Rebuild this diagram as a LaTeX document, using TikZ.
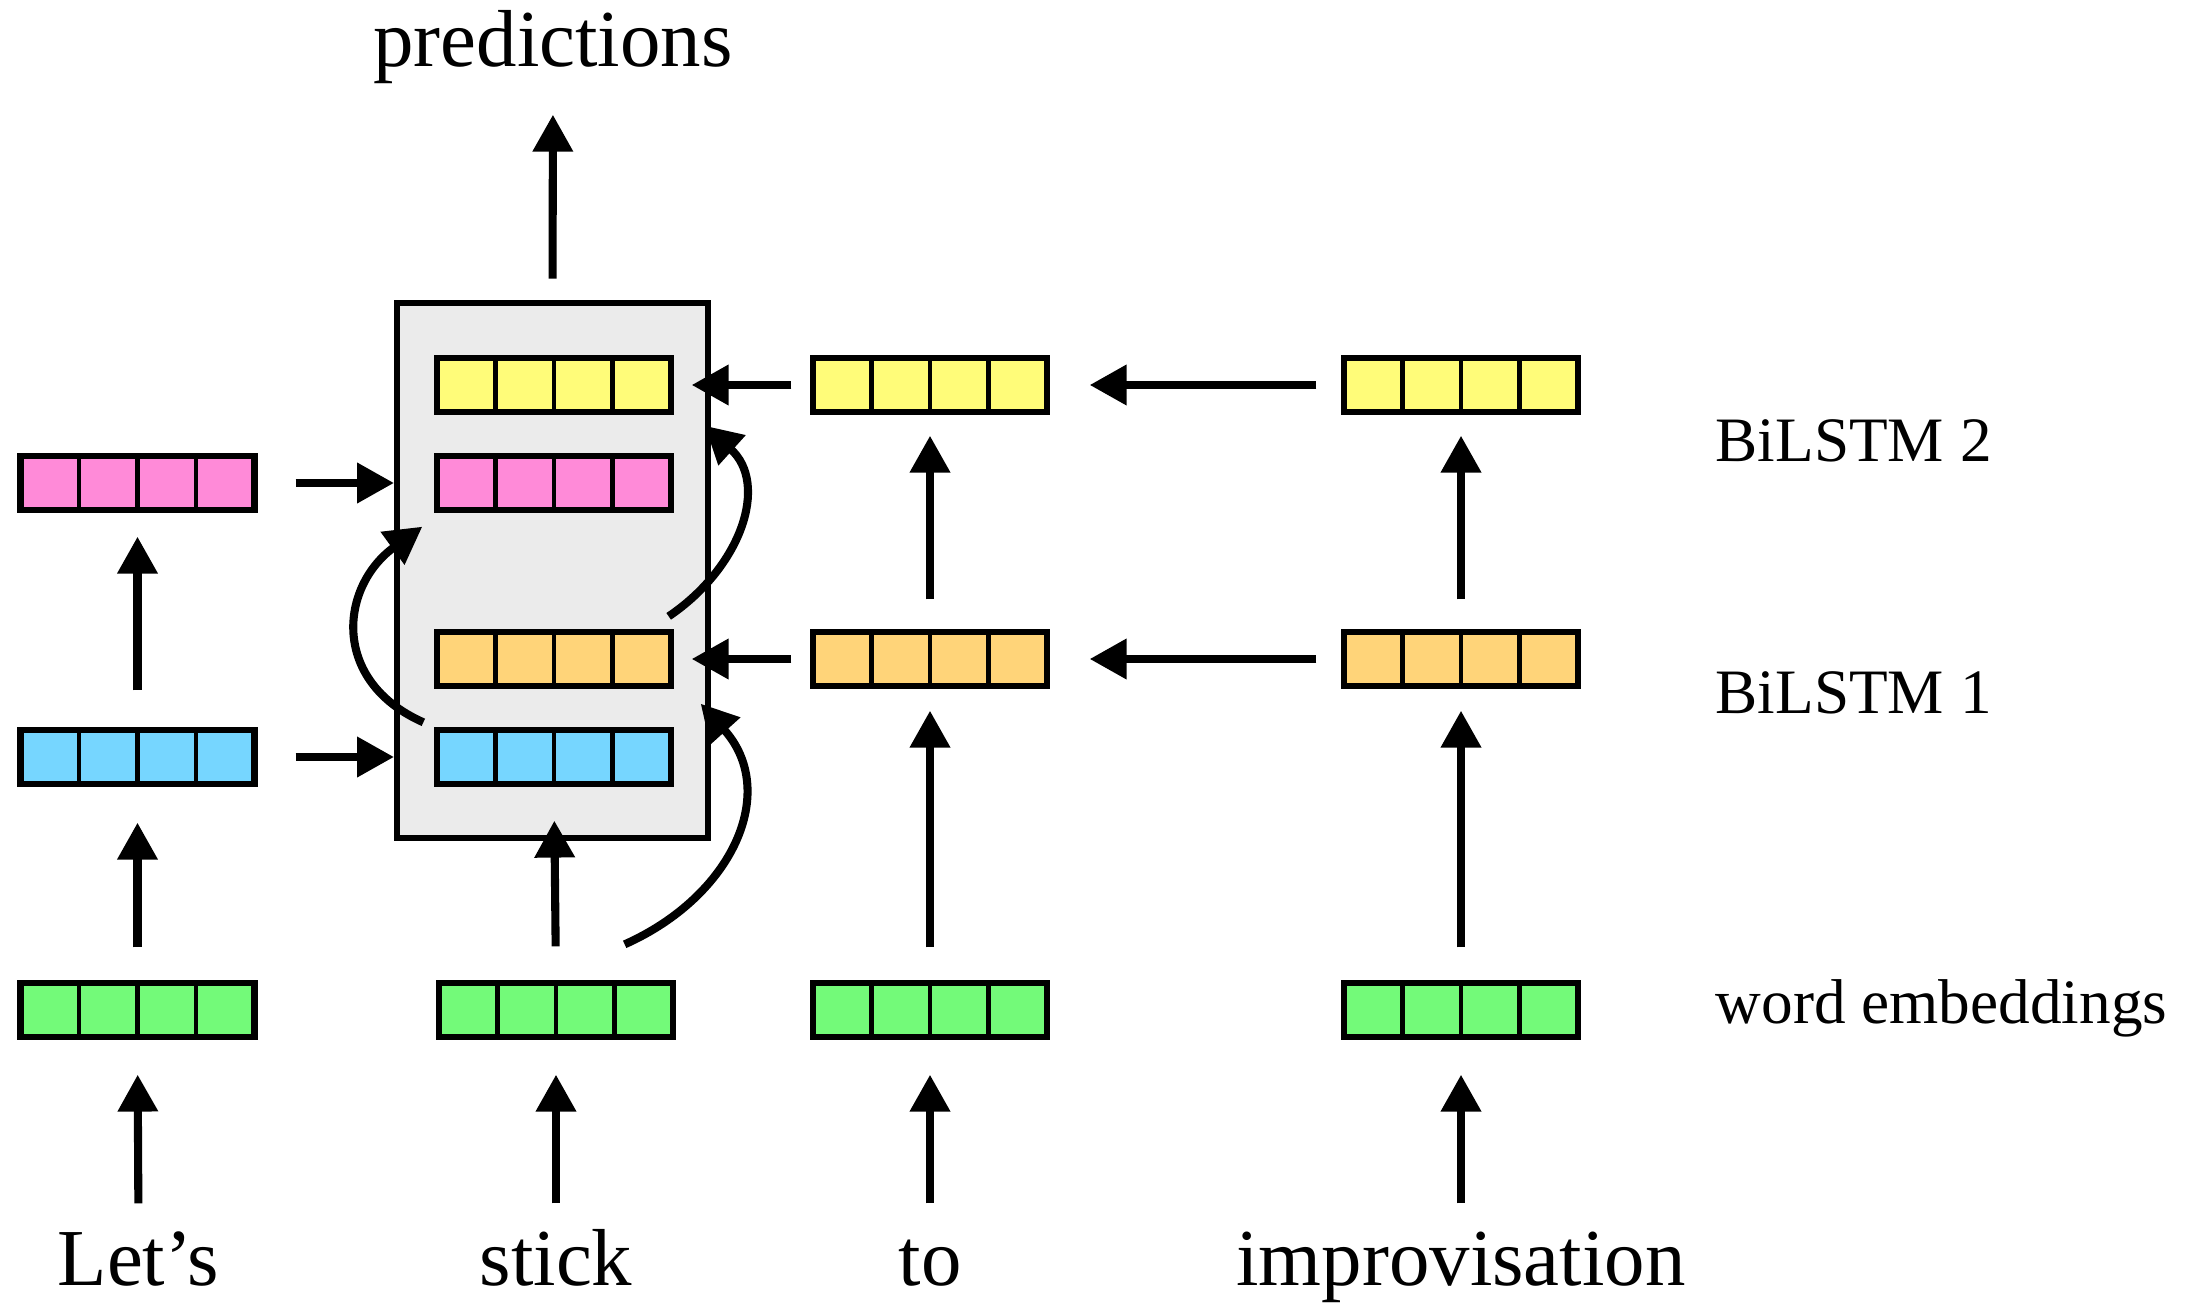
\documentclass[tikz,border=0pt]{standalone}
\usepackage{fontspec}
\setmainfont{Liberation Serif}
\usetikzlibrary{arrows.meta,calc}

\definecolor{banana}{HTML}{FFFC79}
\definecolor{carnation}{HTML}{FF8AD8}
\definecolor{cantaloupe}{HTML}{FFD479}
\definecolor{sky}{HTML}{76D6FF}
\definecolor{flora}{HTML}{73FA79}
\definecolor{boxgray}{HTML}{EBEBEB}

\begin{document}
\begin{tikzpicture}[
  vec/.style={draw, line width=1.8pt, fill=#1, inner sep=0pt,
    minimum width=2.34cm, minimum height=0.54cm,
    path picture={
      \foreach \f in {0.25,0.5,0.75}
        \draw[line width=1.3pt]
        ($(path picture bounding box.south west)!\f!(path picture bounding box.south east)$) --
        ($(path picture bounding box.north west)!\f!(path picture bounding box.north east)$);
    }},
  arr/.style={line width=2.3pt, -{Triangle[length=10.5pt,width=11pt]}},
  word/.style={anchor=base, inner sep=0pt, text height=0.55cm, text depth=0.18cm,
    font=\fontsize{23}{28}\selectfont},
  layer/.style={anchor=base west, inner sep=0pt, font=\fontsize{18}{22}\selectfont}]

  \useasboundingbox (0, 0) rectangle (22.06, 13.04);

  \node[draw, line width=1.7pt, fill=boxgray, minimum width=3.11cm, minimum height=5.35cm]
    (stack) at (5.525, 7.335) {};

  \node[vec=carnation] (p1) at (1.375, 8.21) {};
  \node[vec=sky] (b1) at (1.375, 5.47) {};
  \node[vec=flora] (g1) at (1.375, 2.94) {};

  \node[vec=banana] (y2) at (5.54, 9.19) {};
  \node[vec=carnation] (p2) at (5.54, 8.21) {};
  \node[vec=cantaloupe] (o2) at (5.54, 6.45) {};
  \node[vec=sky] (b2) at (5.54, 5.47) {};
  \node[vec=flora] (g2) at (5.56, 2.94) {};

  \node[vec=banana] (y3) at (9.30, 9.19) {};
  \node[vec=cantaloupe] (o3) at (9.30, 6.45) {};
  \node[vec=flora] (g3) at (9.30, 2.94) {};

  \node[vec=banana] (y4) at (14.61, 9.19) {};
  \node[vec=cantaloupe] (o4) at (14.61, 6.45) {};
  \node[vec=flora] (g4) at (14.61, 2.94) {};

  \node[word] (w1) at (1.385, 0.19) {Let’s};
  \node[word] (w2) at (5.56, 0.19) {stick};
  \node[word] (w3) at (9.30, 0.19) {to};
  \node[word] (w4) at (14.61, 0.19) {improvisation};
  \node[word] (pred) at (5.53, 12.37) {predictions};

  \node[layer] (l2) at (17.15, 8.42) {BiLSTM 2};
  \node[layer] (l1) at (17.15, 5.91) {BiLSTM 1};
  \node[layer] (le) at (17.15, 2.81) {word embeddings};

  \foreach \w/\g in {w1/g1, w2/g2, w3/g3, w4/g4}
    \draw[arr, shorten <=0.26cm, shorten >=0.345cm] (\w.north) -- (\g.south);

  \draw[arr, shorten <=0.325cm, shorten >=0.355cm] (g1.north) -- (b1.south);
  \draw[arr, shorten <=0.365cm, shorten >=0.235cm] (b1.north) -- (p1.south);
  \draw[arr, shorten <=0.335cm, shorten >=0.335cm] (g2.north) -- (b2.south);

  \foreach \g/\o/\y in {g3/o3/y3, g4/o4/y4} {
    \draw[arr, shorten <=0.325cm, shorten >=0.215cm] (\g.north) -- (\o.south);
    \draw[arr, shorten <=0.295cm, shorten >=0.205cm] (\o.north) -- (\y.south);
  }

  \draw[arr, shorten <=0.215cm, shorten >=0.29cm] (stack.north) -- (pred.south);

  \draw[arr, shorten <=0.38cm] (p1.east) -- (p1.east -| stack.west);
  \draw[arr, shorten <=0.38cm] (b1.east) -- (b1.east -| stack.west);

  \draw[arr, shorten <=0.185cm, shorten >=0.175cm] (y3.west) -- (y2.east);
  \draw[arr, shorten <=0.185cm, shorten >=0.175cm] (o3.west) -- (o2.east);
  \draw[arr, shorten <=0.245cm, shorten >=0.395cm] (y4.west) -- (y3.east);
  \draw[arr, shorten <=0.245cm, shorten >=0.395cm] (o4.west) -- (o3.east);

  \draw[arr] ([xshift=-0.105cm, yshift=0.045cm]b2.north west)
    to[out=156, in=216, looseness=1.33] ([xshift=-0.115cm, yshift=-0.135cm]p2.south west);
  \draw[arr] ([xshift=-0.055cm, yshift=0.125cm]o2.north east)
    to[out=34, in=318, looseness=1.15] ([xshift=0.305cm, yshift=-0.105cm]y2.south east);
  \draw[arr] ([xshift=-0.515cm, yshift=0.355cm]g2.north east)
    to[out=24, in=312, looseness=1.2] ([xshift=0.265cm, yshift=-0.145cm]o2.south east);
\end{tikzpicture}
\end{document}
